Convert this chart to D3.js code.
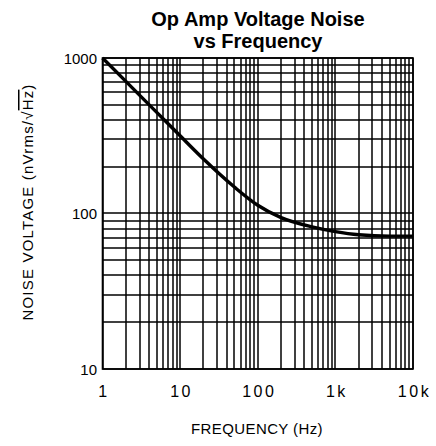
<!DOCTYPE html>
<html><head><meta charset="utf-8">
<script src="https://cdn.jsdelivr.net/npm/d3@7"></script>
<style>body{margin:0;background:#fff}svg{display:block}</style>
</head><body>
<svg id="c" width="436" height="446"></svg>
<script>
const freq = [1, 2, 5, 10, 20, 50, 100, 200, 500, 1000, 2000, 5000, 10000];
const noise = [1000, 707, 447, 316, 224, 148, 113, 94, 82, 76.5, 73, 71.5, 71.5];
const xTicks = [1, 10, 100, 1000, 10000];
const xTickLabels = ["1", "10", "100", "1k", "10k"];
const yTicks = [10, 100, 1000];
const yTickLabels = ["10", "100", "1000"];
const titleLines = ["Op Amp Voltage Noise", "vs Frequency"];

const svg = d3.select("#c");
const L = 102.5, R = 413, T = 58, B = 369;
const x = d3.scaleLog().domain([1, 10000]).range([L, R]);
const y = d3.scaleLog().domain([10, 1000]).range([B, T]);

// grid
const xg = [];
for (let d = 1; d < 10000; d *= 10) for (let m = 1; m < 10; m++) xg.push(d * m);
xg.push(10000);
const yg = [];
for (let d = 10; d < 1000; d *= 10) for (let m = 1; m < 10; m++) yg.push(d * m);
yg.push(1000);
const g = svg.append("g");
g.selectAll("line.v").data(xg).join("line")
  .attr("x1", d => Math.round(x(d))).attr("x2", d => Math.round(x(d)))
  .attr("y1", T).attr("y2", B).attr("stroke", "#000").attr("stroke-width", 1.5);
g.selectAll("line.h").data(yg).join("line")
  .attr("y1", d => Math.round(y(d))).attr("y2", d => Math.round(y(d)))
  .attr("x1", L).attr("x2", R).attr("stroke", "#000").attr("stroke-width", 1.5);
svg.append("rect").attr("x", L).attr("y", T).attr("width", R - L).attr("height", B - T)
  .attr("fill", "none").attr("stroke", "#000").attr("stroke-width", 1.6);

// curve
svg.append("path").datum(freq.map((f, i) => [f, noise[i]]))
  .attr("d", d3.line().x(d => x(d[0])).y(d => y(d[1])).curve(d3.curveMonotoneX))
  .attr("fill", "none").attr("stroke", "#000").attr("stroke-width", 3.4);

// y tick labels
svg.selectAll("text.yt").data(yTicks).join("text")
  .attr("x", 97).attr("y", d => y(d) + 5.5).attr("text-anchor", "end")
  .attr("font-family", "Liberation Sans, Arial, sans-serif").attr("font-size", 15)
  .text((d, i) => yTickLabels[i]);
// x tick labels
svg.selectAll("text.xt").data(xTicks).join("text")
  .attr("x", d => x(d) + 1.5).attr("y", 397).attr("text-anchor", "middle")
  .attr("font-family", "Liberation Sans, Arial, sans-serif").attr("font-size", 16)
  .attr("letter-spacing", 2.5)
  .text((d, i) => xTickLabels[i]);

// titles
svg.selectAll("text.tt").data(titleLines).join("text")
  .attr("x", 258).attr("y", (d, i) => 25.5 + i * 22.5).attr("text-anchor", "middle")
  .attr("font-family", "Liberation Sans, Arial, sans-serif").attr("font-weight", "bold")
  .attr("font-size", 20).text(d => d);

svg.append("text").attr("x", 257).attr("y", 434).attr("text-anchor", "middle")
  .attr("font-family", "Liberation Sans, Arial, sans-serif").attr("font-size", 15)
  .attr("letter-spacing", 0.4).text("FREQUENCY (Hz)");

const yt = svg.append("text").attr("transform", "translate(33,202) rotate(-90)")
  .attr("text-anchor", "middle").attr("font-family", "Liberation Sans, Arial, sans-serif")
  .attr("font-size", 15).attr("letter-spacing", 1.2);
yt.append("tspan").text("NOISE VOLTAGE (nVrms/√");
yt.append("tspan").attr("text-decoration", "overline").text("Hz");
yt.append("tspan").text(")");
</script>
</body></html>
